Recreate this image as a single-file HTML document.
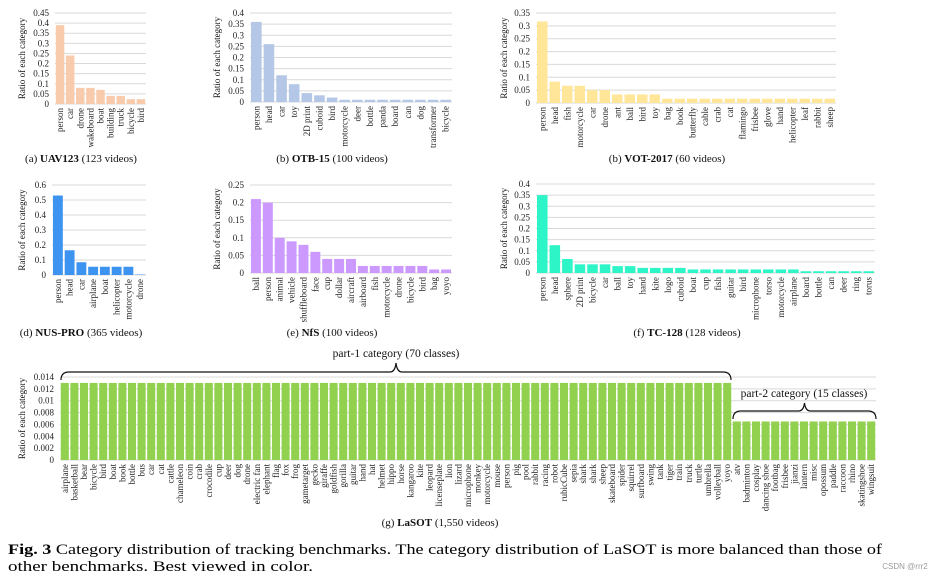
<!DOCTYPE html>
<html><head><meta charset="utf-8"><style>
html,body{margin:0;padding:0;background:#fff;}
svg{display:block;font-family:"Liberation Serif",serif;}
</style></head><body>
<svg id="fig" width="928" height="581" viewBox="0 0 928 581" xmlns="http://www.w3.org/2000/svg">
<text x="8" y="554" font-size="15" textLength="874" lengthAdjust="spacingAndGlyphs"><tspan font-weight="bold">Fig. 3</tspan> Category distribution of tracking benchmarks. The category distribution of LaSOT is more balanced than those of</text>
<text x="8" y="571" font-size="15" textLength="305" lengthAdjust="spacingAndGlyphs">other benchmarks. Best viewed in color.</text>
<text x="905" y="569" font-size="8" font-family="Liberation Sans, sans-serif" fill="#999" text-anchor="middle">CSDN @rrr2</text>
</svg>
<script>
const uavCats=["person","car","drone","wakeboard","boat","building","truck","bicycle","bird"];
const uavVals=[0.39,0.24,0.08,0.08,0.07,0.04,0.04,0.024,0.024];
const uavTicks=["0","0.05","0.1","0.15","0.2","0.25","0.3","0.35","0.4","0.45"];
const otbCats=["person","head","car","toy","2D print","cuboid","bird","motorcycle","deer","bottle","panda","board","can","dog","transformer","bicycle"];
const otbVals=[0.36,0.26,0.12,0.08,0.04,0.03,0.02,0.01,0.01,0.01,0.01,0.01,0.01,0.01,0.01,0.01];
const otbTicks=["0","0.05","0.1","0.15","0.2","0.25","0.3","0.35","0.4"];
const votCats=["person","head","fish","motorcycle","car","drone","ant","ball","bird","toy","bag","book","butterfly","cable","crab","cat","flamingo","frisbee","glove","hand","helicopter","leaf","rabbit","sheep"];
const votVals=[0.317,0.083,0.067,0.067,0.05,0.05,0.033,0.033,0.033,0.033,0.0167,0.0167,0.0167,0.0167,0.0167,0.0167,0.0167,0.0167,0.0167,0.0167,0.0167,0.0167,0.0167,0.0167];
const votTicks=["0","0.05","0.1","0.15","0.2","0.25","0.3","0.35"];
const nusCats=["person","head","car","airplane","boat","helicopter","motorcycle","drone"];
const nusVals=[0.53,0.165,0.085,0.055,0.055,0.055,0.055,0.003];
const nusTicks=["0","0.1","0.2","0.3","0.4","0.5","0.6"];
const nfsCats=["ball","person","animal","vehicle","shuffleboard","face","cup","dollar","aircraft","airboard","fish","motorcycle","drone","bicycle","bird","bag","yoyo"];
const nfsVals=[0.21,0.2,0.1,0.09,0.08,0.06,0.04,0.04,0.04,0.02,0.02,0.02,0.02,0.02,0.02,0.01,0.01];
const nfsTicks=["0","0.05","0.1","0.15","0.2","0.25"];
const tcCats=["person","head","sphere","2D print","bicycle","car","ball","toy","hand","kite","logo","cuboid","boat","cup","fish","guitar","bird","microphone","torso","motorcycle","airplane","board","bottle","can","deer","ring","torus"];
const tcVals=[0.35,0.125,0.063,0.039,0.039,0.039,0.031,0.031,0.023,0.023,0.023,0.023,0.016,0.016,0.016,0.016,0.016,0.016,0.016,0.016,0.016,0.008,0.008,0.008,0.008,0.008,0.008];
const tcTicks=["0","0.05","0.1","0.15","0.2","0.25","0.3","0.35","0.4"];
const lasotCats=["airplane","basketball","bear","bicycle","bird","boat","book","bottle","bus","car","cat","cattle","chameleon","coin","crab","crocodile","cup","deer","dog","drone","electric fan","elephant","flag","fox","frog","gametarget","gecko","giraffe","goldfish","gorilla","guitar","hand","hat","helmet","hippo","horse","kangaroo","kite","leopard","licenseplate","lion","lizard","microphone","monkey","motorcycle","mouse","person","pig","pool","rabbit","racing","robot","rubicCube","sepia","shark","shark","sheep","skateboard","spider","squirrel","surfboard","swing","tank","tiger","train","truck","turtle","umbrella","volleyball","yoyo","atv","badminton","cosplay","dancing shoe","footbag","frisbee","jianzi","lantern","misc","opossum","paddle","raccoon","rhino","skatingshoe","wingsuit"];
const lasotVals=[0.013,0.013,0.013,0.013,0.013,0.013,0.013,0.013,0.013,0.013,0.013,0.013,0.013,0.013,0.013,0.013,0.013,0.013,0.013,0.013,0.013,0.013,0.013,0.013,0.013,0.013,0.013,0.013,0.013,0.013,0.013,0.013,0.013,0.013,0.013,0.013,0.013,0.013,0.013,0.013,0.013,0.013,0.013,0.013,0.013,0.013,0.013,0.013,0.013,0.013,0.013,0.013,0.013,0.013,0.013,0.013,0.013,0.013,0.013,0.013,0.013,0.013,0.013,0.013,0.013,0.013,0.013,0.013,0.013,0.013,0.0065,0.0065,0.0065,0.0065,0.0065,0.0065,0.0065,0.0065,0.0065,0.0065,0.0065,0.0065,0.0065,0.0065,0.0065];
const lasotTicks=["0","0.002","0.004","0.006","0.008","0.01","0.012","0.014"];

const NS="http://www.w3.org/2000/svg";
const svg=document.getElementById('fig');
function mk(tag,attrs,parent){const e=document.createElementNS(NS,tag);for(const k in attrs)e.setAttribute(k,attrs[k]);(parent||svg).appendChild(e);return e;}

function panel(id,cats,vals,ticks,color,x0,x1,yTop,yBot,titleX,capX,capY,capPre,capBold,capPost,fs){
  const g=mk('g',{});
  
  
  const max=parseFloat(ticks[ticks.length-1]);
  const y=v=>yBot-(v/max)*(yBot-yTop);
  const bw=(x1-x0)/cats.length;
  const xs=i=>x0+i*bw;
  ticks.forEach(t=>{
    const v=parseFloat(t);
    const ln=mk('line',{x1:x0,x2:x1,y1:y(v),y2:y(v),stroke:'#d9d9d9','stroke-width':1},g);
    
    
    const tx=mk('text',{x:x0-6,y:y(v)+3,'font-size':fs,'text-anchor':'end',fill:'#222'},g);
    
    
    tx.textContent=t;
  });
  const yt=mk('text',{x:0,y:0,'font-size':fs,'text-anchor':'middle',fill:'#111',transform:`translate(${titleX},${(yTop+yBot)/2}) rotate(-90)`},g);
  
  
  yt.textContent='Ratio of each category';
  cats.forEach((c,i)=>{
    const r=mk('rect',{x:xs(i)+bw*0.08,y:y(vals[i]),width:bw*0.84,height:yBot-y(vals[i]),fill:color},g);
    
    
    const cx=xs(i)+bw/2+3;
    const l=mk('text',{x:0,y:0,'font-size':fs,'text-anchor':'end',fill:'#222',transform:`translate(${cx},${yBot+4}) rotate(-90)`},g);
    
    
    l.textContent=c;
  });
  const cap=mk('text',{x:capX,y:capY,'font-size':11,'text-anchor':'middle',fill:'#111'},g);
  
  
  const a=mk('tspan',{},cap);a.textContent=capPre;
  const b=mk('tspan',{'font-weight':'bold'},cap);b.textContent=capBold;
  const c2=mk('tspan',{},cap);c2.textContent=capPost;
  return {y,xs,bw};
}

panel('uav123',uavCats,uavVals,uavTicks,'#f8cbad',55,146,13,104,25,81,162,'(a) ','UAV123',' (123 videos)',9);
panel('otb15',otbCats,otbVals,otbTicks,'#b4c7e7',250,452,13,102,220,332,162,'(b) ','OTB-15',' (100 videos)',9);
panel('vot2017',votCats,votVals,votTicks,'#ffe699',536,836,13,103,507,667,162,'(b) ','VOT-2017',' (60 videos)',9);
panel('nuspro',nusCats,nusVals,nusTicks,'#3d94f0',52,146,185,275,25,81,336,'(d) ','NUS-PRO',' (365 videos)',9);
panel('nfs',nfsCats,nfsVals,nfsTicks,'#cc99ff',250,452,185,273,220,332,336,'(e) ','NfS',' (100 videos)',9);
panel('tc128',tcCats,tcVals,tcTicks,'#2ef5c8',536,875,184,273,507,687,336,'(f) ','TC-128',' (128 videos)',9);
const L=panel('lasot',lasotCats,lasotVals,lasotTicks,'#92d050',60,876,377,460,25,440,526,'(g) ','LaSOT',' (1,550 videos)',9);

// braces
function brace(xa,xb,yb,h,name){
  const m=(xa+xb)/2;
  const p=`M${xa},${yb+8} Q${xa},${yb} ${xa+8},${yb} L${m-6},${yb} Q${m-1},${yb} ${m},${yb-h} Q${m+1},${yb} ${m+6},${yb} L${xb-8},${yb} Q${xb},${yb} ${xb},${yb+8}`;
  const e=mk('path',{d:p,fill:'none',stroke:'#111','stroke-width':1.2});
  
  
}
const split=70;
brace(L.xs(0)+1,L.xs(split)-1,372,9,'part1-brace');
brace(L.xs(split)+1,L.xs(lasotCats.length),411,8,'part2-brace');
const t1=mk('text',{x:(L.xs(0)+L.xs(split))/2,y:357,'font-size':11.5,'text-anchor':'middle',fill:'#111'});


t1.textContent='part-1 category (70 classes)';
const t2=mk('text',{x:(L.xs(split)+L.xs(lasotCats.length))/2,y:397,'font-size':11.5,'text-anchor':'middle',fill:'#111'});


t2.textContent='part-2 category (15 classes)';
</script>
</body></html>
